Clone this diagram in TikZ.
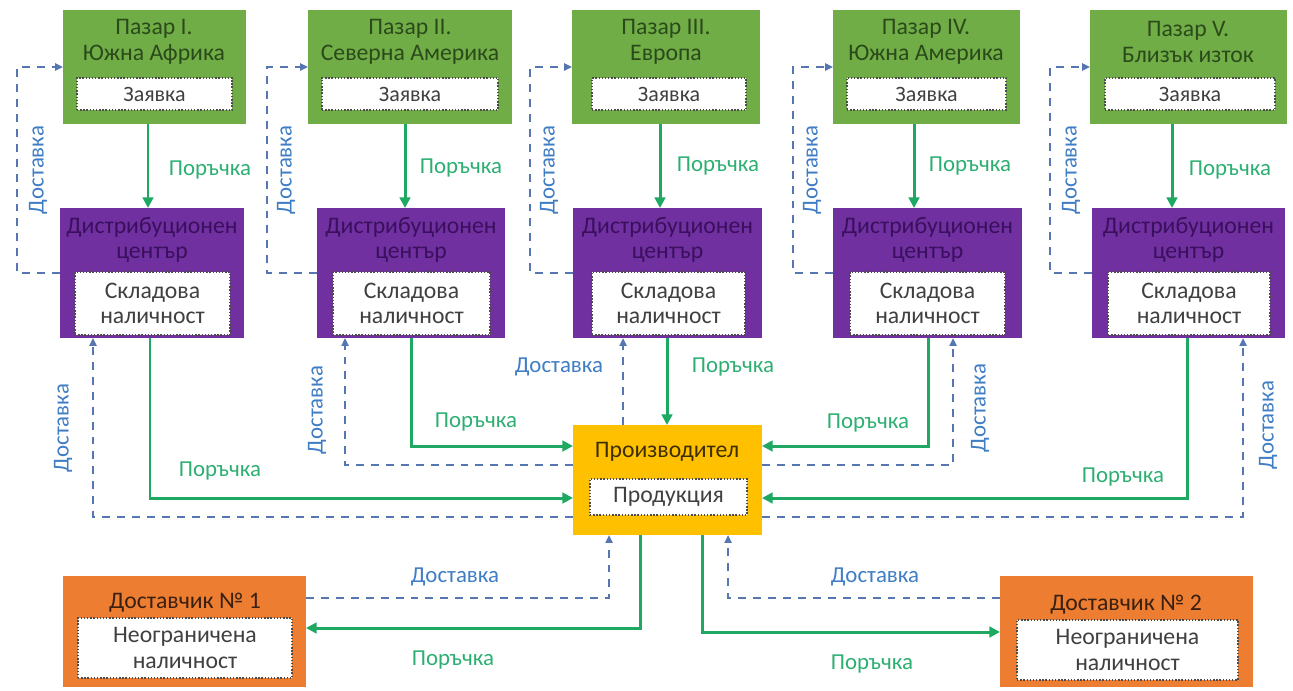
\documentclass[tikz,border=0pt]{standalone}
\usepackage{fontspec}
\setmainfont{Carlito}
\usetikzlibrary{arrows.meta,fit}
\definecolor{mgreen}{HTML}{70AD47}
\definecolor{dcpurple}{HTML}{7030A0}
\definecolor{prodyel}{HTML}{FFC000}
\definecolor{suporange}{HTML}{ED7D31}
\definecolor{ordgreen}{HTML}{1FA862}
\definecolor{delblue}{HTML}{5576B0}
\definecolor{dellbl}{HTML}{3F7DC4}
\definecolor{ordlbl}{HTML}{2DAF72}
\definecolor{mtext}{HTML}{2B4A1A}
\definecolor{dctext}{HTML}{3A0F5E}
\definecolor{intext}{HTML}{404040}
\definecolor{prodtext}{HTML}{3D2E00}
\definecolor{suptext}{HTML}{3A2010}
\begin{document}
\begin{tikzpicture}[x=0.02cm,y=-0.02cm,
  box/.style={inner sep=0pt, outer sep=0pt, draw=none},
  mbox/.style={box, fill=mgreen},
  dcbox/.style={box, fill=dcpurple},
  pbox/.style={box, fill=prodyel},
  sbox/.style={box, fill=suporange},
  inbox/.style={inner sep=0pt, outer sep=0pt, fill=white, draw=gray!60!black, densely dotted, line width=0.8pt},
  btxt/.style={font=\fontsize{13.5}{14.5}\selectfont, inner sep=0pt, align=center},
  itxt/.style={btxt, text=intext},
  order/.style={draw=ordgreen, line width=1.7pt, -{Triangle[length=6pt,width=6pt]}},
  deliv/.style={draw=delblue, line width=1.2pt, dash pattern=on 4.5pt off 4pt, -{Triangle[length=4.5pt,width=4pt]}},
  olbl/.style={font=\fontsize{13}{14}\selectfont, text=ordlbl, inner sep=0pt},
  dlbl/.style={font=\fontsize{13}{14}\selectfont, text=dellbl, inner sep=0pt}
]
\useasboundingbox (0,0) rectangle (1293,690);

% Markets
\node[mbox, fit={(63,10) (246,124)}] (m1) {};
\node[mbox, fit={(308,10) (512,124)}] (m2) {};
\node[mbox, fit={(572,10) (760,124)}] (m3) {};
\node[mbox, fit={(833,10) (1020,124)}] (m4) {};
\node[mbox, fit={(1090,10) (1287,124)}] (m5) {};
\node[btxt, text=mtext] (m1t) at (154,42) {Пазар I.\\Южна Африка};
\node[btxt, text=mtext] (m2t) at (410,42) {Пазар II.\\Северна Америка};
\node[btxt, text=mtext] (m3t) at (666,42) {Пазар III.\\Европа};
\node[btxt, text=mtext] (m4t) at (926,42) {Пазар IV.\\Южна Америка};
\node[btxt, text=mtext] (m5t) at (1188,42) {Пазар V.\\Близък изток};
\node[inbox, fit={(77,78) (232,110)}] (m1i) {};
\node[inbox, fit={(322,78) (498,110)}] (m2i) {};
\node[inbox, fit={(592,78) (746,110)}] (m3i) {};
\node[inbox, fit={(847,78) (1006,110)}] (m4i) {};
\node[inbox, fit={(1105,78) (1275,110)}] (m5i) {};
\foreach \i in {1,...,5}{\node[itxt, font=\fontsize{12.5}{14}\selectfont] (m\i z) at (m\i i) {Заявка};}

% Distribution centres
\node[dcbox, fit={(60,208) (244,338)}] (dc1) {};
\node[dcbox, fit={(317,208) (505,338)}] (dc2) {};
\node[dcbox, fit={(573,208) (762,338)}] (dc3) {};
\node[dcbox, fit={(833,208) (1022,338)}] (dc4) {};
\node[dcbox, fit={(1092,208) (1285,338)}] (dc5) {};
\node[inbox, fit={(75,272) (230,335)}] (dc1i) {};
\node[inbox, fit={(333,272) (490,335)}] (dc2i) {};
\node[inbox, fit={(592,272) (745,335)}] (dc3i) {};
\node[inbox, fit={(850,272) (1005,335)}] (dc4i) {};
\node[inbox, fit={(1108,272) (1270,335)}] (dc5i) {};
\foreach \i in {1,...,5}{
  \node[btxt, text=dctext] (dc\i t) at ([yshift=-18pt]dc\i.north) {Дистрибуционен\\център};
  \node[itxt] (dc\i s) at (dc\i i) {Складова\\наличност};
}

% Producer
\node[pbox, fit={(573,425) (762,535)}] (prod) {};
\node[btxt, text=prodtext] (prodt) at (667,452) {Производител};
\node[inbox, fit={(590,479) (747,515)}] (prodi) {};
\node[itxt] (prods) at (prodi) {Продукция};

% Suppliers
\node[sbox, fit={(63,576) (306,687)}] (s1) {};
\node[btxt, text=suptext] (s1t) at (185,603) {Доставчик № 1};
\node[inbox, fit={(78,618) (292,678)}] (s1i) {};
\node[itxt] (s1s) at (s1i) {Неограничена\\наличност};
\node[sbox, fit={(1000,576) (1253,687)}] (s2) {};
\node[btxt, text=suptext] (s2t) at (1126,605) {Доставчик № 2};
\node[inbox, fit={(1017,620) (1238,680)}] (s2i) {};
\node[itxt] (s2s) at (s2i) {Неограничена\\наличност};

% Market -> DC orders
\draw[order] (m1.south -| 148,0) -- (dc1.north -| 148,0);
\draw[order] (m2.south -| 405,0) -- (dc2.north -| 405,0);
\draw[order] (m3.south -| 660,0) -- (dc3.north -| 660,0);
\draw[order] (m4.south -| 914,0) -- (dc4.north -| 914,0);
\draw[order] (m5.south -| 1172,0) -- (dc5.north -| 1172,0);
\node[olbl] (lo1) at (210,170) {Поръчка};
\node[olbl] (lo2) at (461,168) {Поръчка};
\node[olbl] (lo3) at (718,166) {Поръчка};
\node[olbl] (lo4) at (970,166) {Поръчка};
\node[olbl] (lo5) at (1230,170) {Поръчка};

% DC -> market deliveries
\draw[deliv] (dc1.west |- 0,273) -| (17,67) -- (m1.west |- 0,67);
\draw[deliv] (dc2.west |- 0,273) -| (267,67) -- (m2.west |- 0,67);
\draw[deliv] (dc3.west |- 0,273) -| (530,67) -- (m3.west |- 0,67);
\draw[deliv] (dc4.west |- 0,273) -| (793,67) -- (m4.west |- 0,67);
\draw[deliv] (dc5.west |- 0,273) -| (1050,67) -- (m5.west |- 0,67);
\node[dlbl, rotate=90] (ld1) at (38,170) {Доставка};
\node[dlbl, rotate=90] (ld2) at (286,170) {Доставка};
\node[dlbl, rotate=90] (ld3) at (549,170) {Доставка};
\node[dlbl, rotate=90] (ld4) at (812,170) {Доставка};
\node[dlbl, rotate=90] (ld5) at (1071,170) {Доставка};

% DC -> producer orders
\draw[order] (dc1.south -| 150,0) |- (prod.west |- 0,498);
\draw[order] (dc2.south -| 411,0) |- (prod.west |- 0,446);
\draw[order] (dc3.south -| 667,0) -- (prod.north -| 667,0);
\draw[order] (dc4.south -| 928,0) |- (prod.east |- 0,446);
\draw[order] (dc5.south -| 1187,0) |- (prod.east |- 0,498);
\node[olbl] (lp1) at (220,471) {Поръчка};
\node[olbl] (lp2) at (476,422) {Поръчка};
\node[olbl] (lp3) at (733,367) {Поръчка};
\node[olbl] (lp4) at (868,423) {Поръчка};
\node[olbl] (lp5) at (1123,477) {Поръчка};

% Producer -> DC deliveries
\draw[deliv] (prod.west |- 0,517) -| (dc1.south -| 93,0);
\draw[deliv] (prod.west |- 0,465) -| (dc2.south -| 345,0);
\draw[deliv] (prod.north -| 623,0) -- (dc3.south -| 623,0);
\draw[deliv] (prod.east |- 0,465) -| (dc4.south -| 953,0);
\draw[deliv] (prod.east |- 0,517) -| (dc5.south -| 1243,0);
\node[dlbl, rotate=90] (lq1) at (63,428) {Доставка};
\node[dlbl, rotate=90] (lq2) at (317,410) {Доставка};
\node[dlbl] (lq3) at (559,367) {Доставка};
\node[dlbl, rotate=90] (lq4) at (980,408) {Доставка};
\node[dlbl, rotate=90] (lq5) at (1268,425) {Доставка};

% Producer <-> suppliers
\draw[order] (prod.south -| 640,0) |- (s1.east |- 0,628);
\draw[deliv] (s1.east |- 0,598) -| (prod.south -| 609,0);
\draw[order] (prod.south -| 702,0) |- (s2.west |- 0,632);
\draw[deliv] (s2.west |- 0,598) -| (prod.south -| 728,0);
\node[dlbl] (ls1) at (455,577) {Доставка};
\node[olbl] (ls2) at (453,660) {Поръчка};
\node[dlbl] (ls3) at (875,577) {Доставка};
\node[olbl] (ls4) at (872,664) {Поръчка};
\end{tikzpicture}
\end{document}
